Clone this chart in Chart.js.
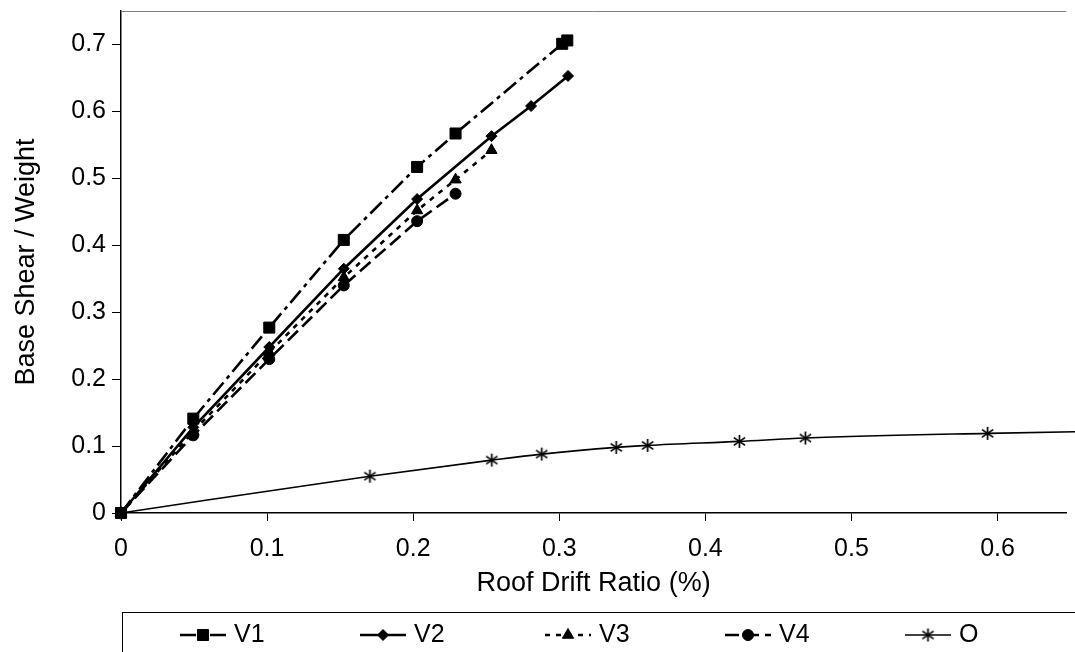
<!DOCTYPE html>
<html>
<head>
<meta charset="utf-8">
<script src="https://cdn.jsdelivr.net/npm/chart.js@4.4.1/dist/chart.umd.min.js"></script>
<style>
  html, body { margin: 0; padding: 0; background: #fff; }
  #wrap { width: 1075px; height: 652px; position: relative; }
</style>
</head>
<body>
<div id="wrap"><canvas id="chart" width="1075" height="652"></canvas></div>
<script>
// roof drift ratio (%) and base shear / weight
const v1Drift = [0, 0.0495, 0.1015, 0.1525, 0.2027, 0.229, 0.302, 0.3055];
const v1Shear = [0, 0.141, 0.277, 0.408, 0.517, 0.567, 0.701, 0.706];

const v2Drift = [0, 0.0495, 0.1015, 0.1525, 0.2027, 0.2536, 0.2807, 0.306];
const v2Shear = [0, 0.128, 0.248, 0.365, 0.469, 0.563, 0.608, 0.653];

const v3Drift = [0, 0.0495, 0.1015, 0.1525, 0.2027, 0.229, 0.2536];
const v3Shear = [0, 0.122, 0.240, 0.352, 0.452, 0.498, 0.542];

const v4Drift = [0, 0.0495, 0.1015, 0.1525, 0.2027, 0.229];
const v4Shear = [0, 0.116, 0.230, 0.340, 0.436, 0.477];

const oDrift = [0, 0.1704, 0.2538, 0.288, 0.339, 0.3605, 0.4233, 0.4685, 0.5932, 0.72];
const oShear = [0, 0.055, 0.079, 0.088, 0.098, 0.101, 0.107, 0.112, 0.119, 0.124];

const seriesNames = ['V1', 'V2', 'V3', 'V4', 'O'];
const xTicks = [0, 0.1, 0.2, 0.3, 0.4, 0.5, 0.6];
const yTicks = [0, 0.1, 0.2, 0.3, 0.4, 0.5, 0.6, 0.7];

const FONT = '"Liberation Sans", Arial, sans-serif';

function toPoints(xs, ys) {
  return xs.map((x, i) => ({ x: x, y: ys[i] }));
}

// asterisk marker: vertical bar plus an X
function asterisk(size) {
  const c = document.createElement('canvas');
  c.width = size; c.height = size;
  const g = c.getContext('2d');
  const m = size / 2, r = size / 2 - 1;
  g.strokeStyle = '#000';
  g.lineWidth = 1.7;
  g.beginPath();
  g.moveTo(m, m - r); g.lineTo(m, m + r);
  g.moveTo(m - r * 0.87, m - r * 0.6); g.lineTo(m + r * 0.87, m + r * 0.6);
  g.moveTo(m - r * 0.87, m + r * 0.6); g.lineTo(m + r * 0.87, m - r * 0.6);
  g.stroke();
  return c;
}

const base = {
  showLine: true,
  borderColor: '#000',
  backgroundColor: '#000',
  pointBorderColor: '#000',
  pointBackgroundColor: '#000',
  pointBorderWidth: 1,
  tension: 0,
  clip: false
};

const datasets = [
  Object.assign({}, base, {
    label: seriesNames[0], data: toPoints(v1Drift, v1Shear),
    borderWidth: 2.6, borderDash: [16, 5, 4, 5],
    pointStyle: 'rect', pointRadius: 7.8
  }),
  Object.assign({}, base, {
    label: seriesNames[1], data: toPoints(v2Drift, v2Shear),
    borderWidth: 2.6, borderDash: [],
    pointStyle: 'rectRot', pointRadius: 5.5
  }),
  Object.assign({}, base, {
    label: seriesNames[2], data: toPoints(v3Drift, v3Shear),
    borderWidth: 2.6, borderDash: [5, 6],
    pointStyle: 'triangle', pointRadius: 6.5
  }),
  Object.assign({}, base, {
    label: seriesNames[3], data: toPoints(v4Drift, v4Shear),
    borderWidth: 2.6, borderDash: [14, 6],
    pointStyle: 'circle', pointRadius: 5.5
  }),
  Object.assign({}, base, {
    label: seriesNames[4], data: toPoints(oDrift, oShear),
    borderWidth: 1.6, borderDash: [],
    pointStyle: asterisk(15), pointRadius: 7.5,
    cubicInterpolationMode: 'monotone'
  })
];

// plot frame top line + boxed legend under the axis title
const framePlugin = {
  id: 'frame',
  afterDraw(chart) {
    const ctx = chart.ctx;
    const a = chart.chartArea;
    ctx.save();
    ctx.strokeStyle = '#808080';
    ctx.lineWidth = 1;
    ctx.beginPath();
    ctx.moveTo(a.left, a.top + 0.5);
    ctx.lineTo(a.right, a.top + 0.5);
    ctx.stroke();

    ctx.strokeStyle = '#000';
    ctx.strokeRect(122.5, 612.5, 1000, 60);

    const xs = [180, 360, 545, 725, 905];
    const y = 635;
    chart.data.datasets.forEach((ds, i) => {
      const x = xs[i];
      ctx.setLineDash(ds.borderDash || []);
      ctx.lineWidth = ds.borderWidth;
      ctx.strokeStyle = '#000';
      ctx.beginPath();
      ctx.moveTo(x, y);
      ctx.lineTo(x + 46, y);
      ctx.stroke();
      ctx.setLineDash([]);
      ctx.fillStyle = '#000';
      ctx.lineWidth = 1;
      Chart.helpers.drawPoint(ctx, {
        pointStyle: ds.pointStyle,
        radius: ds.pointRadius,
        borderWidth: 1,
        rotation: 0
      }, x + 23, y);
      ctx.font = '25px ' + FONT;
      ctx.textBaseline = 'middle';
      ctx.textAlign = 'left';
      ctx.fillText(ds.label, x + 54, y);
    });
    ctx.restore();
  }
};

new Chart(document.getElementById('chart'), {
  type: 'scatter',
  data: { datasets: datasets },
  plugins: [framePlugin],
  options: {
    responsive: false,
    animation: false,
    layout: { padding: { top: 11, right: 0, bottom: 40, left: 0 } },
    plugins: {
      legend: { display: false },
      tooltip: { enabled: false }
    },
    scales: {
      x: {
        type: 'linear',
        min: 0,
        max: 0.647,
        afterBuildTicks: s => { s.ticks = xTicks.map(v => ({ value: v })); },
        afterFit: s => { s.height = 99; s.paddingLeft = 0; s.paddingRight = 0; },
        border: { color: '#000', width: 1.5 },
        grid: { drawOnChartArea: false, tickLength: 8, color: '#000' },
        ticks: {
          color: '#000', padding: 13,
          font: { family: FONT, size: 25 },
          callback: v => String(v)
        },
        title: {
          display: true, text: 'Roof Drift Ratio (%)', color: '#000',
          font: { family: FONT, size: 27 },
          padding: { top: 0, bottom: 12 }
        }
      },
      y: {
        type: 'linear',
        min: 0,
        max: 0.75,
        afterBuildTicks: s => { s.ticks = yTicks.map(v => ({ value: v })); },
        afterFit: s => { s.width = 121; s.paddingTop = 0; s.paddingBottom = 0; },
        border: { color: '#000', width: 1.5 },
        grid: { drawOnChartArea: false, tickLength: 9, color: '#000' },
        ticks: {
          color: '#000', padding: 6,
          font: { family: FONT, size: 25 },
          callback: v => String(v)
        },
        title: {
          display: true, text: 'Base Shear / Weight', color: '#000',
          font: { family: FONT, size: 27 },
          padding: { top: 10, bottom: 0 }
        }
      }
    }
  }
});
</script>
</body>
</html>
